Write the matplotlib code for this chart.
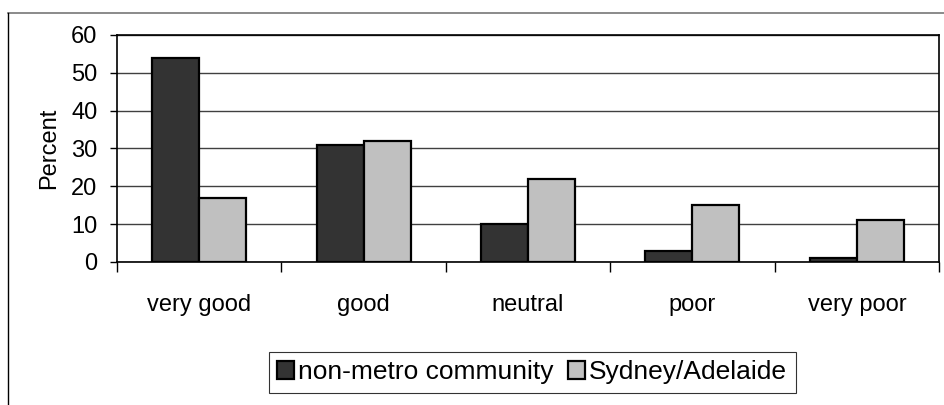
import matplotlib.pyplot as plt
import numpy as np
from matplotlib.lines import Line2D

plt.rcParams['font.family'] = ['Liberation Sans', 'DejaVu Sans']

categories = ['very good', 'good', 'neutral', 'poor', 'very poor']
non_metro = [54, 31, 10, 3, 1]
sydney_adelaide = [17, 32, 22, 15, 11]
series_labels = ['non-metro community', 'Sydney/Adelaide']
y_ticks = [0, 10, 20, 30, 40, 50, 60]

COLORS = ['#333333', '#c0c0c0']

fig = plt.figure(figsize=(9.45, 4.05), dpi=100)
ax = fig.add_axes([0.1238, 0.3531, 0.8699, 0.5605])

x = np.arange(len(categories))
width = 0.286
for i, (vals, label) in enumerate(zip([non_metro, sydney_adelaide], series_labels)):
    ax.bar(x + (i - 0.5) * width, vals, width, color=COLORS[i],
           edgecolor='black', linewidth=1.6, label=label, zorder=3)

ax.set_xlim(-0.5, len(categories) - 0.5)
ax.set_ylim(0, 60)
ax.set_yticks(y_ticks)
ax.grid(axis='y', color='#404040', linewidth=1.0, zorder=0)

# category labels centred, ticks on the boundaries
ax.set_xticks(x)
ax.set_xticklabels(categories, fontsize=17)
ax.tick_params(axis='x', which='major', length=0, pad=23)
ax.set_xticks(np.arange(-0.5, len(categories)), minor=True)
ax.tick_params(axis='x', which='minor', length=7, width=1, direction='out')
ax.tick_params(axis='y', length=5, width=1, pad=9, labelsize=17)

for s in ax.spines.values():
    s.set_linewidth(1.2)
    s.set_color('black')

ax.set_ylabel('Percent', fontsize=17, labelpad=8)

leg = ax.legend(loc='upper center', bbox_to_anchor=(0.505, -0.396), ncol=2,
                fontsize=19, frameon=True, fancybox=False, edgecolor='black',
                handlelength=0.65, handleheight=0.65, handletextpad=0.15,
                columnspacing=0.55, borderpad=0.32, borderaxespad=0)
leg.get_frame().set_linewidth(0.8)
for h in leg.legend_handles:
    h.set_linewidth(1.6)

# outer chart frame (top and left edges visible)
fig.add_artist(Line2D([8 / 945, 1.0], [1 - 13 / 405, 1 - 13 / 405],
                      transform=fig.transFigure, color='#777777', linewidth=1.2))
fig.add_artist(Line2D([8 / 945, 8 / 945], [0.0, 1 - 13 / 405],
                      transform=fig.transFigure, color='black', linewidth=1.0))

fig.savefig('out.png', dpi=100)
